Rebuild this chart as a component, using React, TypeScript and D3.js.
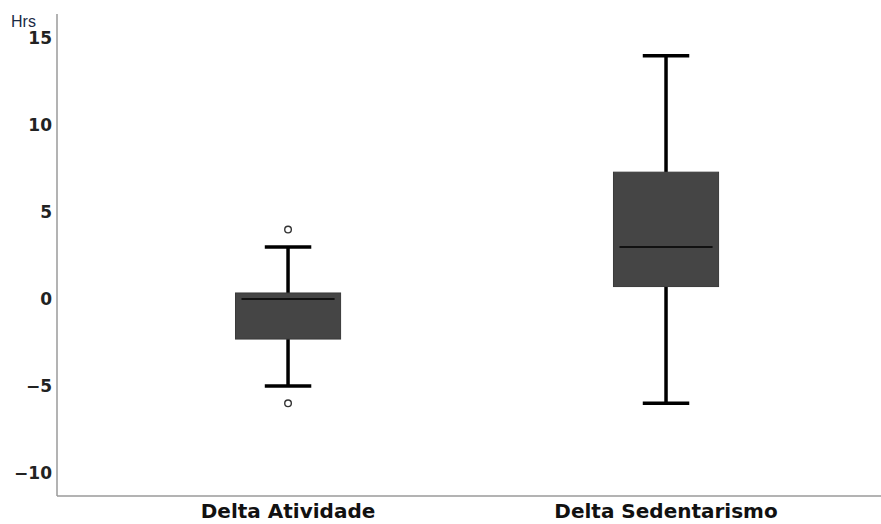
import React from 'react';
import * as d3 from 'd3';

// boxplot stats (hours)
const categories = ['Delta Atividade', 'Delta Sedentarismo'];
const whiskerLow = [-5, -6];
const q1 = [-2.3, 0.72];
const median = [0, 3];
const q3 = [0.35, 7.3];
const whiskerHigh = [3, 14];
const outliers = [[4, -6], []];
const yTicks = [-10, -5, 0, 5, 10, 15];

const W = 881;
const H = 524;

const App: React.FC = () => {
    const margin = { top: 14, right: 0, bottom: 28, left: 57 };

    const x = d3.scalePoint<string>()
        .domain(categories)
        .range([margin.left, W - margin.right])
        .padding(0.59)
        .align(0.518);

    const y = d3.scaleLinear()
        .domain([-11.33, 16.4])
        .range([H - margin.bottom, margin.top]);

    const step = x.step();
    const boxW = step * 0.278;
    const capW = step * 0.123;

    const font = 'DejaVu Sans, Verdana, sans-serif';

    return (
        <svg width={W} height={H} style={{ position: 'absolute', left: 0, top: 0, background: '#fff' }}>
            {/* axes */}
            <line x1={margin.left} x2={margin.left} y1={margin.top} y2={H - margin.bottom} stroke="#9a9a9a" strokeWidth={1.5} />
            <line x1={margin.left} x2={W} y1={H - margin.bottom} y2={H - margin.bottom} stroke="#9a9a9a" strokeWidth={1.5} />

            {yTicks.map(t => (
                <text key={t} x={margin.left - 5} y={y(t)} dy="0.35em" textAnchor="end"
                    fontFamily={font} fontWeight="bold" fontSize={17} fill="#222">
                    {t < 0 ? '\u2212' + Math.abs(t) : t}
                </text>
            ))}
            <text x={11} y={27} fontFamily="Liberation Sans, Arial, sans-serif" fontSize={16} fill="#1a2a44">Hrs</text>

            {categories.map((c, i) => {
                const cx = x(c) as number;
                return (
                    <g key={c}>
                        {/* whiskers */}
                        <line x1={cx} x2={cx} y1={y(whiskerHigh[i])} y2={y(q3[i])} stroke="#000" strokeWidth={3.5} />
                        <line x1={cx} x2={cx} y1={y(q1[i])} y2={y(whiskerLow[i])} stroke="#000" strokeWidth={3.5} />
                        <line x1={cx - capW / 2} x2={cx + capW / 2} y1={y(whiskerHigh[i])} y2={y(whiskerHigh[i])} stroke="#000" strokeWidth={3.5} />
                        <line x1={cx - capW / 2} x2={cx + capW / 2} y1={y(whiskerLow[i])} y2={y(whiskerLow[i])} stroke="#000" strokeWidth={3.5} />
                        {/* box */}
                        <rect x={cx - boxW / 2} y={y(q3[i])} width={boxW} height={y(q1[i]) - y(q3[i])}
                            fill="#454545" stroke="#3a3a3a" strokeWidth={1} />
                        <line x1={cx - boxW / 2 + 6} x2={cx + boxW / 2 - 6} y1={y(median[i])} y2={y(median[i])} stroke="#111" strokeWidth={2} />
                        {outliers[i].map((o, j) => (
                            <circle key={j} cx={cx} cy={y(o)} r={3.3} fill="#fff" stroke="#333" strokeWidth={1.4} />
                        ))}
                        <text x={cx} y={H - 6} textAnchor="middle" fontFamily={font} fontWeight="bold" fontSize={20} fill="#111">
                            {c}
                        </text>
                    </g>
                );
            })}
        </svg>
    );
};

export default App;
